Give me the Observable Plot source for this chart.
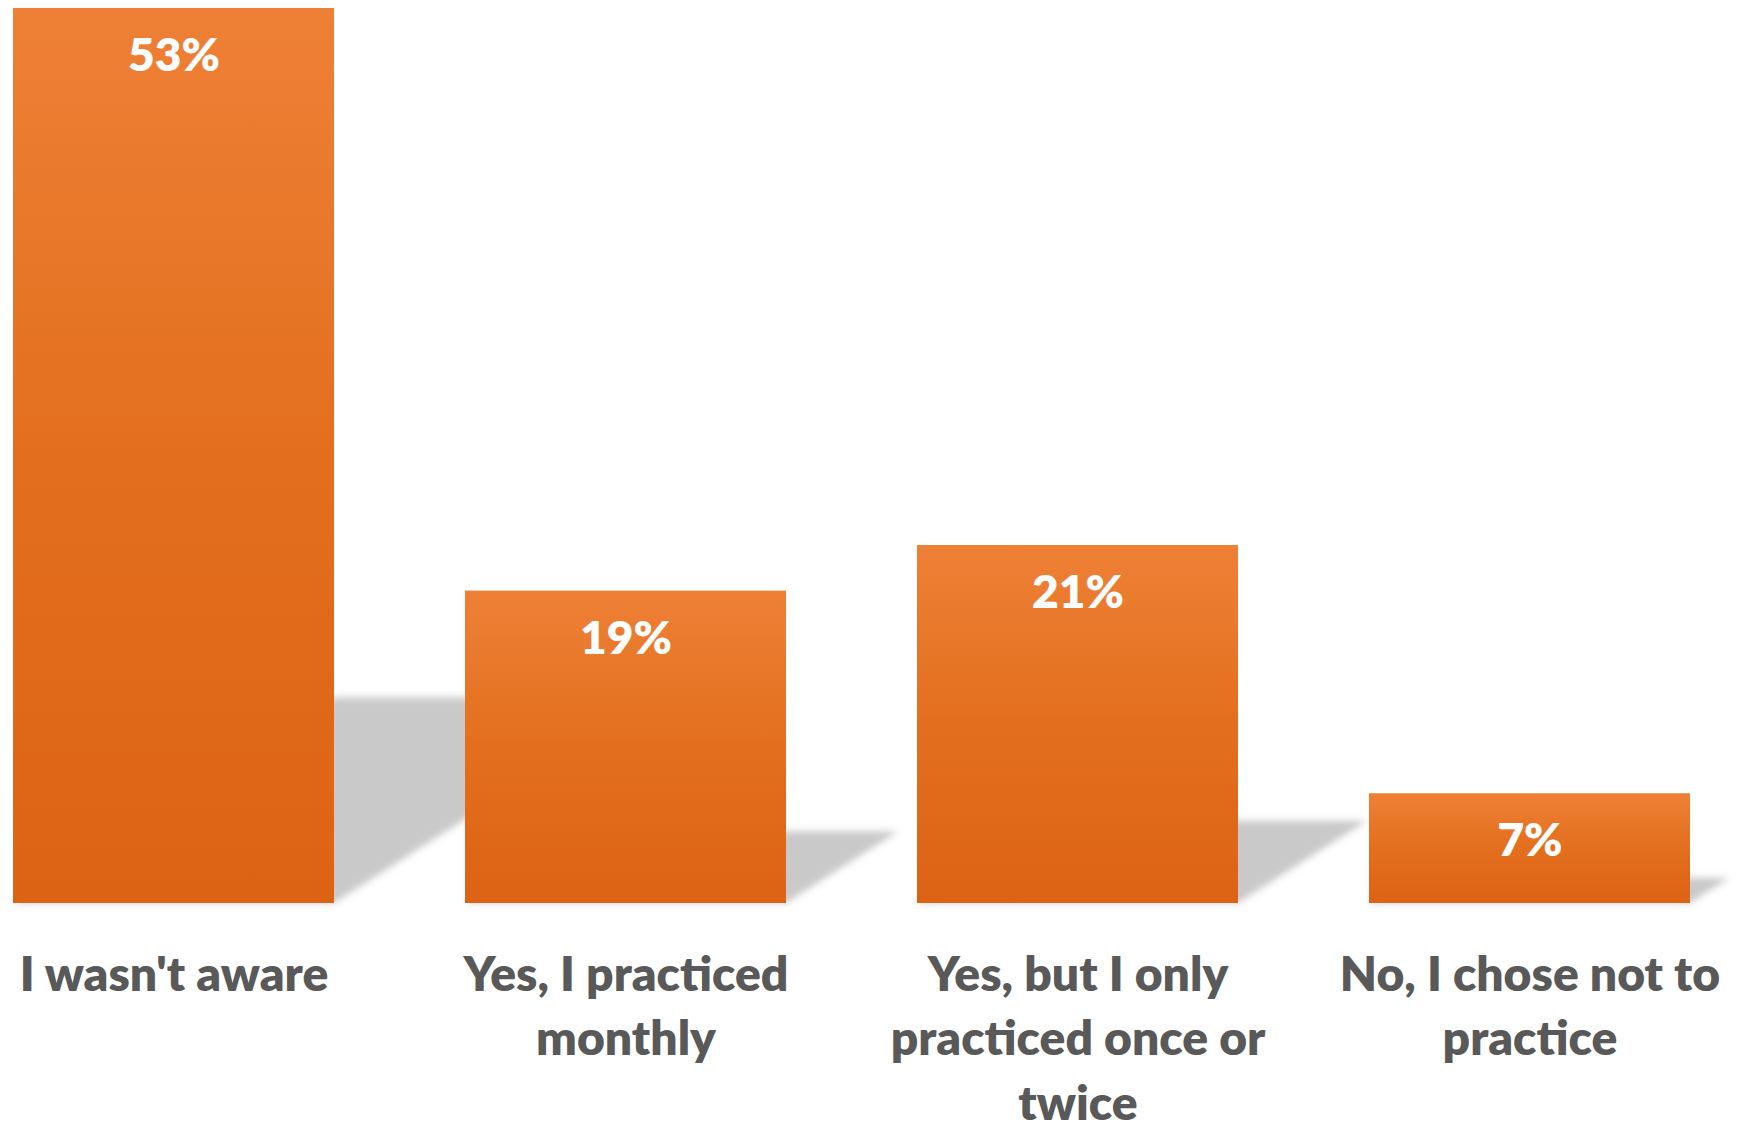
<!DOCTYPE html>
<html>
<head>
<meta charset="utf-8">
<script src="https://cdn.jsdelivr.net/npm/d3@7"></script>
<script src="https://cdn.jsdelivr.net/npm/@observablehq/plot@0.6"></script>
<style>
  html, body { margin: 0; padding: 0; background: #ffffff; }
  #chart svg { display: block; overflow: visible; }
</style>
</head>
<body>
<div id="chart"></div>
<script>
const categories = ["I wasn't aware", "Yes, I practiced monthly", "Yes, but I only practiced once or twice", "No, I chose not to practice"];
const values = [53, 18.5, 21.2, 6.5];
const valueLabels = ["53%", "19%", "21%", "7%"];
const tickLabels = ["I wasn't aware", "Yes, I practiced\nmonthly", "Yes, but I only\npracticed once or\ntwice", "No, I chose not to\npractice"];

const data = categories.map((c, i) => ({category: c, value: values[i], label: valueLabels[i]}));

const FONT = "Lato, 'Open Sans', sans-serif";
const SVGNS = "http://www.w3.org/2000/svg";

function defsMark() {
  const defs = document.createElementNS(SVGNS, "defs");
  const grad = document.createElementNS(SVGNS, "linearGradient");
  grad.setAttribute("id", "barGrad");
  grad.setAttribute("x1", "0"); grad.setAttribute("y1", "0");
  grad.setAttribute("x2", "0"); grad.setAttribute("y2", "1");
  [["0%", "#EE8036"], ["50%", "#E36F1E"], ["100%", "#DC6313"]].forEach(([o, c]) => {
    const s = document.createElementNS(SVGNS, "stop");
    s.setAttribute("offset", o); s.setAttribute("stop-color", c);
    grad.appendChild(s);
  });
  defs.appendChild(grad);
  const filt = document.createElementNS(SVGNS, "filter");
  filt.setAttribute("id", "shadowBlur");
  filt.setAttribute("x", "-20%"); filt.setAttribute("y", "-20%");
  filt.setAttribute("width", "140%"); filt.setAttribute("height", "140%");
  const blur = document.createElementNS(SVGNS, "feGaussianBlur");
  blur.setAttribute("stdDeviation", "3.5");
  filt.appendChild(blur);
  defs.appendChild(filt);
  return defs;
}

function shadowMark(index, scales) {
  const g = document.createElementNS(SVGNS, "g");
  g.setAttribute("filter", "url(#shadowBlur)");
  const x = scales.x, y = scales.y;
  const bw = x.bandwidth();
  const s = 0.36, k = 0.23;
  data.forEach(d => {
    const L = x(d.category), R = L + bw;
    const B = y(0), T = y(d.value);
    const h = B - T;
    const pts = [[L, B], [R, B], [R + s * h, B - k * h], [L + s * h, B - k * h]];
    const p = document.createElementNS(SVGNS, "polygon");
    p.setAttribute("points", pts.map(q => q.join(",")).join(" "));
    p.setAttribute("fill", "#c9c9c9");
    g.appendChild(p);
  });
  return g;
}

const chart = Plot.plot({
  width: 1744,
  height: 1123,
  marginLeft: 11,
  marginRight: 52,
  marginTop: 8,
  marginBottom: 220,
  style: {fontFamily: FONT, background: "#ffffff", overflow: "visible"},
  x: {domain: categories, paddingInner: 0.289, paddingOuter: 0, label: null},
  y: {domain: [0, 53], axis: null},
  marks: [
    defsMark,
    shadowMark,
    Plot.barY(data, {x: "category", y: "value", fill: "url(#barGrad)"}),
    Plot.text(data, {x: "category", y: "value", text: "label", fill: "#ffffff", fontSize: 46, fontWeight: 800, dy: 48, fontFamily: FONT}),
    Plot.axisX({
      tickSize: 0,
      tickPadding: 42,
      fontSize: 48,
      lineHeight: 1.34,
      fontWeight: 800,
      fill: "#595959",
      fontFamily: FONT,
      label: null,
      tickFormat: c => tickLabels[categories.indexOf(c)]
    })
  ]
});
document.getElementById("chart").appendChild(chart);
</script>
</body>
</html>
